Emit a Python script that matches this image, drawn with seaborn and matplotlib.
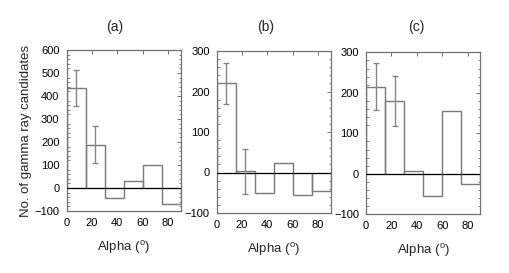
import numpy as np
import pandas as pd
import matplotlib
matplotlib.use("Agg")
import matplotlib.pyplot as plt
import seaborn as sns
from matplotlib.ticker import MultipleLocator

# ---- data ----
bin_edges = [0, 15, 30, 45, 60, 75, 90]
bin_centers = [7.5, 22.5, 37.5, 52.5, 67.5, 82.5]
panel_titles = ["(a)", "(b)", "(c)"]
a_counts = [436, 188, -43, 30, 101, -70]
a_errors = [79, 81]
b_counts = [220, 3, -51, 24, -55, -45]
b_errors = [50, 55]
c_counts = [215, 180, 7, -54, 154, -25]
c_errors = [58, 61]
y_limits = [(-100, 600), (-100, 300), (-100, 300)]
x_ticks = [0, 20, 40, 60, 80]
ylabel = "No. of gamma ray candidates"
xlabel = "Alpha ($^{\\rm o}$)"

sns.set_theme(style="white")
plt.rcParams['font.family'] = ['Liberation Sans', 'DejaVu Sans']
plt.rcParams['mathtext.fontset'] = 'custom'
plt.rcParams['mathtext.rm'] = 'Liberation Sans'
plt.rcParams['mathtext.it'] = 'Liberation Sans:italic'

W, H = 510, 273
fig = plt.figure(figsize=(W / 100, H / 100), dpi=100)

# axes boxes in pixel coordinates: left, right, top, bottom
boxes = [(66.5, 180.5, 50, 211), (216.7, 330.7, 51, 213), (366, 480.3, 52.3, 214.3)]
title_x = [115, 266, 416]

counts_all = [a_counts, b_counts, c_counts]
errs_all = [a_errors, b_errors, c_errors]
line_col = "#7a7a7a"
spine_col = "#707070"

for i in range(3):
    l, r, t, b = boxes[i]
    ax = fig.add_axes([l / W, 1 - b / H, (r - l) / W, (b - t) / H])
    df = pd.DataFrame({"alpha": bin_centers, "n": counts_all[i]})
    sns.histplot(data=df, x="alpha", weights="n", bins=bin_edges, fill=False,
                 element="bars", color=line_col, linewidth=1.0, ax=ax)
    ax.axhline(0, color="black", lw=0.8, zorder=5)
    ax.errorbar(bin_centers[:2], counts_all[i][:2], yerr=errs_all[i], fmt="none",
                ecolor="#858585", elinewidth=1.0, capsize=2.2, capthick=1.0, zorder=6)
    ax.set_xlim(0, 90)
    ax.set_ylim(*y_limits[i])
    ax.set_xticks(x_ticks)
    ax.yaxis.set_major_locator(MultipleLocator(100))
    ax.yaxis.set_minor_locator(MultipleLocator(20))
    ax.tick_params(axis="both", which="both", direction="in", top=True, right=True,
                   colors=spine_col, labelcolor="black", labelsize=8, pad=5)
    ax.tick_params(axis="both", which="major", length=3, width=0.7)
    ax.tick_params(axis="y", which="minor", length=1.8, width=0.6, left=True, right=True)
    for s in ax.spines.values():
        s.set_color(spine_col)
        s.set_linewidth(0.9)
    ax.set_xlabel(xlabel, fontsize=9.5, labelpad=8)
    if i == 0:
        ax.set_ylabel(ylabel, fontsize=9.5, labelpad=2)
    else:
        ax.set_ylabel("")
    fig.text(title_x[i] / W, 1 - 27 / H, panel_titles[i], ha="center", va="center", fontsize=10)

fig.savefig("out.png", dpi=100, facecolor="white")
